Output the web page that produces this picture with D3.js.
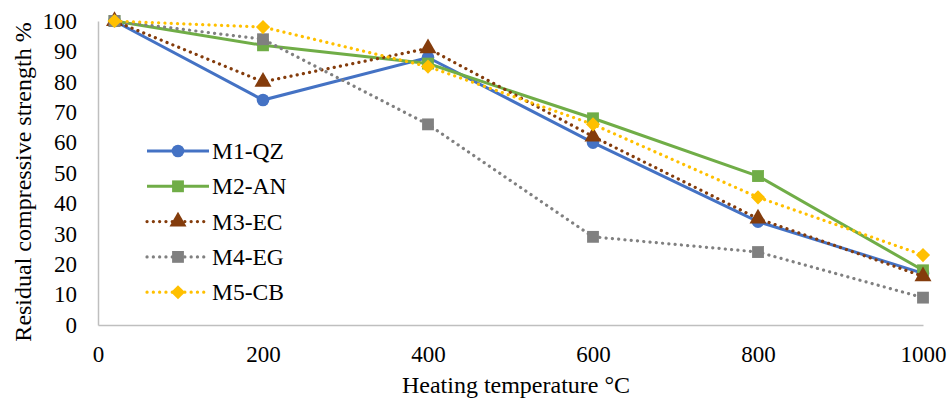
<!DOCTYPE html>
<html>
<head>
<meta charset="utf-8">
<script src="https://cdn.jsdelivr.net/npm/d3@7"></script>
<style>
  body { margin: 0; background: #fff; }
  svg text { font-family: "Liberation Serif", "Times New Roman", serif; fill: #000; }
</style>
</head>
<body>
<svg id="chart" width="950" height="401"></svg>
<script>
// data
const temps = [20, 200, 400, 600, 800, 1000]
const seriesNames = ["M1-QZ", "M2-AN", "M3-EC", "M4-EG", "M5-CB"]
const m1 = [100, 74, 88, 60, 34, 17]
const m2 = [100, 92, 86, 68, 49, 18]
const m3 = [100, 80, 91, 62, 35, 16]
const m4 = [100, 94, 66, 29, 24, 9]
const m5 = [100, 98, 85, 66, 42, 23]
const xTicks = [0, 200, 400, 600, 800, 1000]
const yTicks = [0, 10, 20, 30, 40, 50, 60, 70, 80, 90, 100]

const styles = [
  { color: "#4472C4", dotted: false, marker: d3.symbolCircle, size: 125, rot: 0 },
  { color: "#70AD47", dotted: false, marker: d3.symbolSquare, size: 140, rot: 0 },
  { color: "#843C0C", dotted: true,  marker: d3.symbolTriangle, size: 125, rot: 0 },
  { color: "#808080", dotted: true,  marker: d3.symbolSquare, size: 140, rot: 0 },
  { color: "#FFC000", dotted: true,  marker: d3.symbolSquare, size: 100, rot: 45 }
]
const allValues = [m1, m2, m3, m4, m5]

const svg = d3.select("#chart")
const x = d3.scaleLinear().domain([0, 1000]).range([98, 923])
const y = d3.scaleLinear().domain([0, 100]).range([325, 21])

// axes
const xAxis = svg.append("g").attr("transform", "translate(0,325)")
  .call(d3.axisBottom(x).tickValues(xTicks).tickFormat(d3.format("d")).tickSize(0).tickPadding(21))
xAxis.attr("font-family", null)
xAxis.select(".domain").attr("stroke", "#bfbfbf").attr("stroke-width", 1.5)
xAxis.selectAll("text").attr("font-size", "23px")

const yAxis = svg.append("g").attr("transform", "translate(98,0)")
  .call(d3.axisLeft(y).tickValues(yTicks).tickSize(0).tickPadding(21))
yAxis.attr("font-family", null)
yAxis.select(".domain").attr("stroke", "#bfbfbf").attr("stroke-width", 1.5)
yAxis.selectAll("text").attr("font-size", "23px")

svg.append("text")
  .attr("x", 516).attr("y", 393)
  .attr("text-anchor", "middle")
  .attr("font-size", "24px")
  .text("Heating temperature °C")

svg.append("text")
  .attr("transform", "translate(31,182) rotate(-90)")
  .attr("text-anchor", "middle")
  .attr("font-size", "24px")
  .text("Residual compressive strength %")

// lines
const line = d3.line().x((d, i) => x(temps[i])).y(d => y(d))

allValues.forEach(function(vals, s) {
  const st = styles[s]
  svg.append("path")
    .datum(vals)
    .attr("d", line)
    .attr("fill", "none")
    .attr("stroke", st.color)
    .attr("stroke-width", st.dotted ? 3.2 : 3)
    .attr("stroke-linecap", st.dotted ? "round" : "butt")
    .attr("stroke-dasharray", st.dotted ? "0.1 6.2" : null)

  svg.selectAll(".m" + s)
    .data(vals)
    .enter()
    .append("path")
      .attr("transform", (d, i) => `translate(${x(temps[i])},${y(d)}) rotate(${st.rot})`)
      .attr("d", d3.symbol().type(st.marker).size(st.size))
      .attr("fill", st.color)
})

// legend
const legend = svg.append("g")
seriesNames.forEach(function(name, i) {
  const st = styles[i]
  const ly = 151 + i * 35.3
  legend.append("line")
    .attr("x1", 147).attr("x2", 209)
    .attr("y1", ly).attr("y2", ly)
    .attr("stroke", st.color)
    .attr("stroke-width", st.dotted ? 3.2 : 3)
    .attr("stroke-linecap", st.dotted ? "round" : "butt")
    .attr("stroke-dasharray", st.dotted ? "0.1 6.2" : null)
  legend.append("path")
    .attr("transform", `translate(178,${ly}) rotate(${st.rot})`)
    .attr("d", d3.symbol().type(st.marker).size(st.size))
    .attr("fill", st.color)
  legend.append("text")
    .attr("x", 212).attr("y", ly + 8)
    .attr("font-size", "23.5px")
    .text(name)
})
</script>
</body>
</html>
